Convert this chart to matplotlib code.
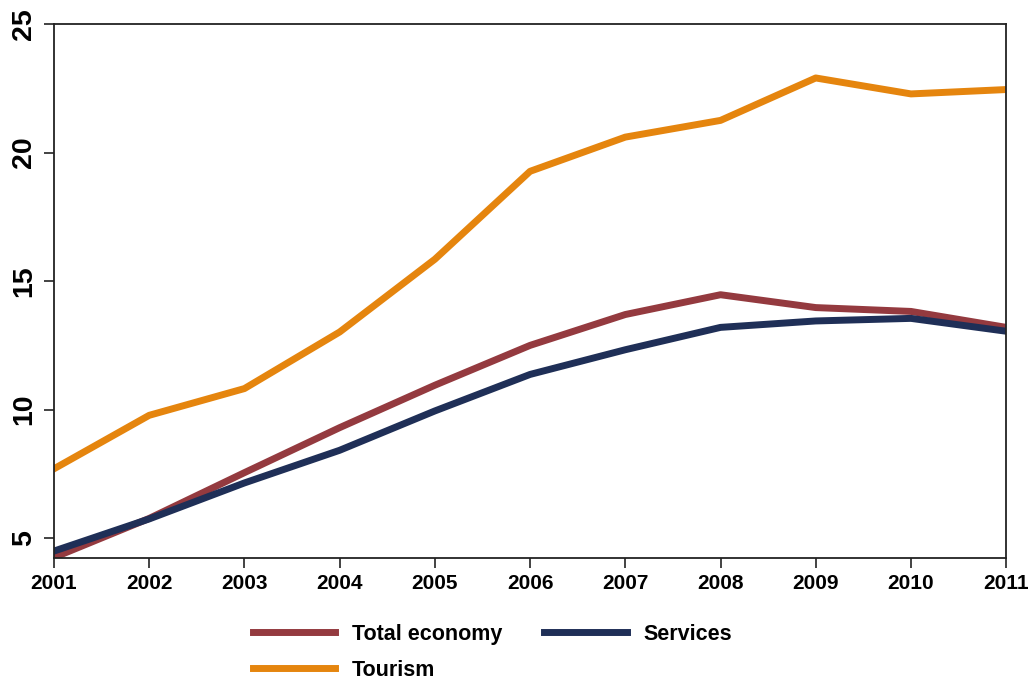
import matplotlib.pyplot as plt

plt.rcParams['font.family'] = ['Liberation Sans', 'DejaVu Sans']

years = [2001, 2002, 2003, 2004, 2005, 2006, 2007, 2008, 2009, 2010, 2011]
total_economy = [4.25, 5.77, 7.55, 9.3, 10.95, 12.5, 13.7, 14.47, 13.97, 13.82, 13.2]
services = [4.5, 5.75, 7.15, 8.42, 9.95, 11.37, 12.33, 13.2, 13.45, 13.55, 13.05]
tourism = [7.7, 9.78, 10.82, 13.02, 15.85, 19.27, 20.6, 21.25, 22.9, 22.28, 22.45]
yticks = [5, 10, 15, 20, 25]

c_total = '#943a3f'
c_serv = '#1f2f57'
c_tour = '#e5850e'

fig = plt.figure(figsize=(10.32, 6.85), dpi=100)
ax = fig.add_axes([0.0523, 0.185, 0.9227, 0.78])

l1, = ax.plot(years, total_economy, color=c_total, lw=5, label='Total economy')
l2, = ax.plot(years, services, color=c_serv, lw=5, label='Services')
l3, = ax.plot(years, tourism, color=c_tour, lw=5, label='Tourism')

ax.set_xlim(2001, 2011)
ax.set_ylim(4.22, 25)
ax.set_xticks(years)
ax.set_xticklabels([str(y) for y in years], fontsize=15, fontweight='bold')
ax.set_yticks(yticks)
ax.set_yticklabels([str(v) for v in yticks], rotation=90, va='center',
                   fontsize=20.5, fontweight='bold')
ax.tick_params(axis='both', length=7, width=1.2, color='#222222')
ax.tick_params(axis='y', pad=5)
ax.tick_params(axis='x', pad=4)
for s in ax.spines.values():
    s.set_linewidth(1.3)
    s.set_color('#222222')

# legend order gives: row 1 Total economy / Services, row 2 Tourism
fig.legend([l1, l3, l2], ['Total economy', 'Tourism', 'Services'],
           ncol=2, loc='upper left', bbox_to_anchor=(0.226, 0.118),
           frameon=False, prop={'size': 15.5, 'weight': 'bold'},
           handlelength=3.85, handletextpad=0.75,
           columnspacing=1.95, labelspacing=0.7)

fig.savefig('out.png', dpi=100)
